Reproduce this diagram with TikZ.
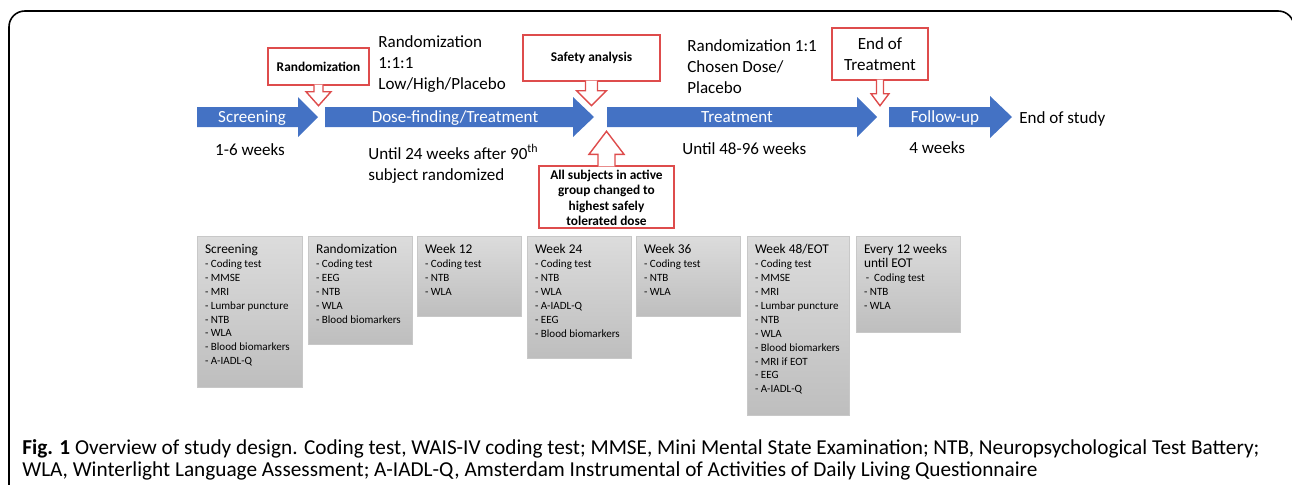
\documentclass[tikz,border=0pt]{standalone}
\usepackage{fontspec}
\setmainfont{Carlito}
\newfontfamily\capfont{Carlito}
\usetikzlibrary{fit}

\definecolor{phaseblue}{RGB}{68,114,196}
\definecolor{callred}{RGB}{222,76,76}
\definecolor{boxtop}{RGB}{220,220,220}
\definecolor{boxbot}{RGB}{190,190,190}
\definecolor{boxline}{RGB}{200,200,200}
\newcommand{\vtitle}{\fontsize{7.6}{7.95}\selectfont}

\begin{document}
\begin{tikzpicture}[x=0.02cm,y=-0.02cm,
	phase/.style={fill=phaseblue},
	phasetext/.style={text=white,font=\fontsize{9.7}{12}\selectfont,inner sep=0,anchor=base},
	plain/.style={font=\fontsize{9.7}{12}\selectfont,inner sep=0,align=left},
	callbox/.style={draw=callred,line width=0.8pt,fill=white,inner sep=0},
	calltext/.style={inner sep=0,align=center,font=\fontsize{7.6}{8.9}\selectfont\bfseries},
	callarrow/.style={draw=callred,line width=0.8pt,fill=white,line join=miter},
	visit/.style={draw=boxline,top color=boxtop,bottom color=boxbot,inner sep=0},
	visittext/.style={anchor=north west,inner sep=0,align=left,font=\fontsize{6.3}{7.95}\selectfont},
	]
\useasboundingbox (0,0) rectangle (1292,484);

% frame
\draw[line width=0.9pt,rounded corners=9] (9,490) -- (9,11) -- (1294,11) -- (1294,40);

% phases
\fill[phase] (197,107) -- (298,107) -- (298,97) -- (318,117) -- (298,137) -- (298,127) -- (197,127) -- cycle;
\fill[phase] (325,107) -- (573,107) -- (573,97) -- (594,117) -- (573,137) -- (573,127) -- (325,127) -- cycle;
\fill[phase] (607,107) -- (857,107) -- (857,97) -- (877,117) -- (857,137) -- (857,127) -- (607,127) -- cycle;
\fill[phase] (889,107) -- (990,107) -- (990,96) -- (1012,117) -- (990,138) -- (990,127) -- (889,127) -- cycle;

\path (252,122.5) node[phasetext] (scr) {Screening}
	(455,122.5) node[phasetext] (dose) {Dose-finding/Treatment}
	(737,122.5) node[phasetext] (treat) {Treatment}
	(945,122.5) node[phasetext] (fup) {Follow-up}
	(1019,123) node[plain,anchor=base west] (eos) {End of study}
	(250,155.5) node[plain,anchor=base] (scrdur) {1-6 weeks}
	(368,144) node[plain,anchor=north west] (dosedur) {Until 24 weeks after 90\textsuperscript{th}\\subject randomized}
	(682,154.5) node[plain,anchor=base west] (treatdur) {Until 48-96 weeks}
	(909,153.5) node[plain,anchor=base west] (fupdur) {4 weeks}
	(378,35) node[plain,anchor=north west] (rand1) {Randomization\\1:1:1\\Low/High/Placebo}
	(687,39) node[plain,anchor=north west] (rand2) {Randomization 1:1\\Chosen Dose/\\Placebo}
	;

% callouts
\node[callbox,fit={(268,48) (369,85)},label={[calltext]center:Randomization}] (crand) {};
\node[callbox,fit={(523,35) (660,81)},label={[calltext]center:Safety analysis}] (csafe) {};
\node[callbox,fit={(832,28) (928,80)},
	label={[calltext,font=\fontsize{9.7}{12}\selectfont]center:End of\\Treatment}] (ceot) {};
\node[callbox,fit={(539,166) (674,228)},
	label={[calltext,yshift=-0.5pt]center:All subjects in active\\group changed to\\highest safely\\tolerated dose}] (cdose) {};

\draw[callarrow] ([shift={(-4.5,-1)}]crand.south) -- ++(0,7) -- ++(-8,0) -- ([shift={(0,20)}]crand.south)
	-- ([shift={(12.5,6)}]crand.south) -- ++(-8,0) -- ++(0,-7);
\draw[callarrow] ([shift={(-6,-1)}]csafe.south) -- ++(0,10) -- ++(-9,0) -- ([shift={(0,24)}]csafe.south)
	-- ([shift={(15,9)}]csafe.south) -- ++(-9,0) -- ++(0,-10);
\draw[callarrow] ([shift={(-3.5,-1)}]ceot.south) -- ++(0,14) -- ++(-5.5,0) -- ([shift={(0,25)}]ceot.south)
	-- ([shift={(9,13)}]ceot.south) -- ++(-5.5,0) -- ++(0,-14);
\draw[callarrow] ([shift={(-8.5,1)}]cdose.north) -- ++(0,-12) -- ++(-9,0) -- ([shift={(0,-34)}]cdose.north)
	-- ([shift={(17.5,-11)}]cdose.north) -- ++(-9,0) -- ++(0,12);

% visits
\node[visit,fit={(197,236) (302,387)}] (vscr) {};
\node[visit,fit={(308,236) (412,344)}] (vrand) {};
\node[visit,fit={(417,236) (521,316)}] (vw12) {};
\node[visit,fit={(527,236) (631,358)}] (vw24) {};
\node[visit,fit={(636,236) (740,316)}] (vw36) {};
\node[visit,fit={(747,236) (849,415)}] (vw48) {};
\node[visit,fit={(856,236) (960,332)}] (vfu) {};

\node[visittext] at ([shift={(8,8)}]vscr.north west) {{\vtitle Screening}\\- Coding test\\- MMSE\\- MRI\\- Lumbar puncture\\- NTB\\- WLA\\- Blood biomarkers\\- A-IADL-Q};
\node[visittext] at ([shift={(8,8)}]vrand.north west) {{\vtitle Randomization}\\- Coding test\\- EEG\\- NTB\\- WLA\\- Blood biomarkers};
\node[visittext] at ([shift={(8,8)}]vw12.north west) {{\vtitle Week 12}\\- Coding test\\- NTB\\- WLA};
\node[visittext] at ([shift={(8,8)}]vw24.north west) {{\vtitle Week 24}\\- Coding test\\- NTB\\- WLA\\- A-IADL-Q\\- EEG\\- Blood biomarkers};
\node[visittext] at ([shift={(8,8)}]vw36.north west) {{\vtitle Week 36}\\- Coding test\\- NTB\\- WLA};
\node[visittext] at ([shift={(8,8)}]vw48.north west) {{\vtitle Week 48/EOT}\\- Coding test\\- MMSE\\- MRI\\- Lumbar puncture\\- NTB\\- WLA\\- Blood biomarkers\\- MRI if EOT\\- EEG\\- A-IADL-Q};
\node[visittext] at ([shift={(8,8)}]vfu.north west) {{\vtitle Every 12 weeks}\\{\vtitle until EOT}\\\,-~~Coding test\\- NTB\\- WLA};

% caption
\node[anchor=north west,inner sep=0,align=left,font=\capfont\fontsize{12.1}{12.5}\selectfont] (cap) at (22,439)
	{\textbf{Fig. 1} Overview of study design. Coding test, WAIS-IV coding test; MMSE, Mini Mental State Examination; NTB, Neuropsychological Test Battery;\\
	WLA, Winterlight Language Assessment; A-IADL-Q, Amsterdam Instrumental of Activities of Daily Living Questionnaire};
\end{tikzpicture}
\end{document}
